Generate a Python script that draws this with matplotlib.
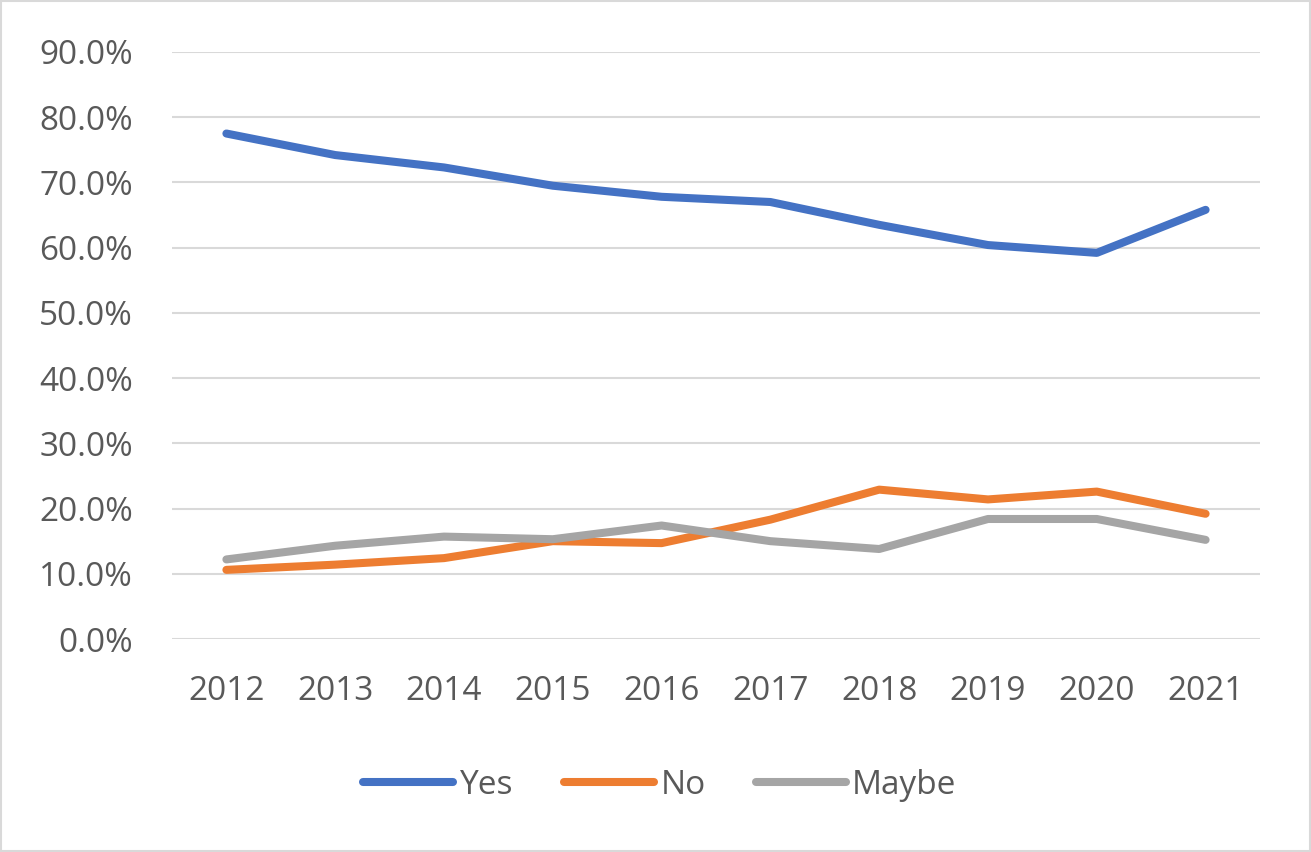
import matplotlib
matplotlib.use("Agg")
import matplotlib.pyplot as plt
from matplotlib.patches import Rectangle

years = ["2012", "2013", "2014", "2015", "2016", "2017", "2018", "2019", "2020", "2021"]
yes = [77.5, 74.2, 72.3, 69.5, 67.8, 67.0, 63.5, 60.4, 59.2, 65.8]
no = [10.6, 11.4, 12.4, 15.0, 14.7, 18.3, 22.9, 21.4, 22.6, 19.2]
maybe = [12.2, 14.3, 15.7, 15.3, 17.4, 15.0, 13.8, 18.4, 18.4, 15.2]
series_names = ["Yes", "No", "Maybe"]
colors = ["#4472C4", "#ED7D31", "#A5A5A5"]
yticks = [0, 10, 20, 30, 40, 50, 60, 70, 80, 90]

plt.rcParams['font.family'] = ['Open Sans', 'DejaVu Sans']

fig = plt.figure(figsize=(13.11, 8.52), dpi=100)
ax = fig.add_axes([172/1311, 1-639/852, (1260-172)/1311, (639-52)/852])

x = list(range(len(years)))
for vals, name, c in zip([yes, no, maybe], series_names, colors):
    ax.plot(x, vals, color=c, lw=5.8, solid_capstyle='round', solid_joinstyle='round', label=name)

ax.set_xlim(-0.5, len(years) - 0.5)
ax.set_ylim(0, 90)
ax.set_yticks(yticks)
ax.set_yticklabels([f"{v:.1f}%" for v in yticks])
ax.set_xticks(x)
ax.set_xticklabels(years)
ax.tick_params(axis='both', length=0, labelsize=24, colors='#595959')
ax.tick_params(axis='y', pad=28)
ax.tick_params(axis='x', pad=26)
ax.grid(axis='y', color='#D9D9D9', lw=1.5)
ax.set_axisbelow(True)
for s in ax.spines.values():
    s.set_visible(False)

leg = fig.legend(loc='center', bbox_to_anchor=(660/1311, 1-785/852), ncol=3, frameon=False,
                 fontsize=24, handlelength=2.7, handletextpad=0.2, columnspacing=1.5)
for t in leg.get_texts():
    t.set_color('#595959')

fig.patches.append(Rectangle((0.001, 0.001), 0.998, 0.998, transform=fig.transFigure,
                             fill=False, edgecolor='#D9D9D9', lw=1.5))

fig.savefig("out.png", dpi=100)
